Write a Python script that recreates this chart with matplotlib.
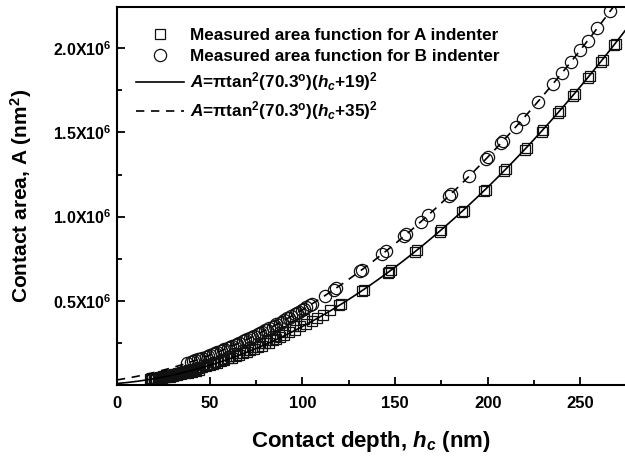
import numpy as np
import matplotlib
matplotlib.use('Agg')
import matplotlib.pyplot as plt
from matplotlib.ticker import MultipleLocator, FixedLocator

plt.rcParams['font.family'] = ['Liberation Sans', 'DejaVu Sans']
plt.rcParams['font.weight'] = 'bold'
plt.rcParams['axes.labelweight'] = 'bold'
plt.rcParams['mathtext.fontset'] = 'custom'
plt.rcParams['mathtext.rm'] = 'Liberation Sans:bold'
plt.rcParams['mathtext.it'] = 'Liberation Sans:bold:italic'
plt.rcParams['mathtext.bf'] = 'Liberation Sans:bold'

# 测得的面积函数 (A 压头), 单位 nm, 10^6 nm^2
h_A = [18, 19, 20, 21, 22, 23, 24, 25, 26, 27, 28, 29, 30, 31, 32, 33, 34, 35,
       36, 37, 38, 39, 40, 42, 44, 46, 48, 50, 52, 54, 56, 58, 60, 62, 64, 66,
       68, 70, 72, 74, 76, 78, 80, 82, 84, 86, 88, 90, 93, 96, 99, 102, 105,
       108, 111, 115, 120, 121, 132, 133, 146, 147, 148, 161, 162, 174, 175,
       186, 187, 198, 199, 209, 210, 220, 221, 229, 230, 238, 239, 246, 247,
       254, 255, 261, 262, 268, 269,
       19, 21, 23, 25, 27, 29, 31, 33, 35, 37, 39, 41, 43, 45, 47, 49, 53, 57,
       61, 65, 69, 73, 77, 81, 85, 89, 95, 101,
       18.5, 20.5, 22.5, 24.5, 26.5, 28.5, 30.5, 32.5, 34.5, 36.5, 38.5, 40.5,
       42.5, 44.5]
A_A = [0.034, 0.036, 0.037, 0.040, 0.041, 0.044, 0.045, 0.048, 0.050, 0.052,
       0.055, 0.057, 0.059, 0.062, 0.064, 0.067, 0.069, 0.072, 0.075, 0.078,
       0.081, 0.083, 0.087, 0.093, 0.099, 0.106, 0.113, 0.118, 0.127, 0.133,
       0.142, 0.147, 0.158, 0.163, 0.174, 0.179, 0.191, 0.196, 0.209, 0.214,
       0.228, 0.233, 0.247, 0.252, 0.267, 0.273, 0.288, 0.294, 0.314, 0.328,
       0.348, 0.362, 0.382, 0.398, 0.418, 0.443, 0.476, 0.481, 0.558, 0.566,
       0.665, 0.674, 0.682, 0.792, 0.800, 0.910, 0.918, 1.028, 1.036, 1.152,
       1.161, 1.272, 1.280, 1.398, 1.405, 1.505, 1.513, 1.617, 1.625, 1.719,
       1.728, 1.825, 1.833, 1.920, 1.928, 2.017, 2.025,
       0.040, 0.044, 0.049, 0.053, 0.058, 0.062, 0.067, 0.072, 0.078, 0.083,
       0.089, 0.095, 0.102, 0.109, 0.116, 0.123, 0.139, 0.155, 0.172, 0.190,
       0.208, 0.228, 0.249, 0.270, 0.293, 0.316, 0.351, 0.389,
       0.030, 0.034, 0.038, 0.042, 0.046, 0.050, 0.055, 0.059, 0.064, 0.069,
       0.074, 0.080, 0.086, 0.092]

# 测得的面积函数 (B 压头)
h_B = [38, 40, 42, 44, 46, 48, 50, 52, 54, 56, 58, 60, 62, 64, 66, 68, 70, 72,
       74, 76, 78, 80, 82, 84, 86, 88, 90, 92, 94, 96, 98, 100, 102, 104, 112,
       117, 118, 131, 132, 143, 145, 155, 156, 164, 168, 179, 180, 190, 199,
       200, 207, 208, 215, 219, 227, 235, 240, 245, 250, 254, 259, 266,
       41, 45, 49, 53, 57, 61, 65, 69, 73, 77, 81, 85, 89, 93, 97, 101, 105]
A_B = [0.131, 0.138, 0.146, 0.153, 0.161, 0.169, 0.178, 0.186, 0.195, 0.203,
       0.213, 0.221, 0.231, 0.240, 0.251, 0.260, 0.271, 0.281, 0.292, 0.302,
       0.314, 0.324, 0.336, 0.347, 0.360, 0.371, 0.384, 0.395, 0.409, 0.420,
       0.435, 0.446, 0.461, 0.473, 0.529, 0.566, 0.574, 0.675, 0.683, 0.776,
       0.794, 0.884, 0.894, 0.970, 1.010, 1.122, 1.132, 1.240, 1.341, 1.353,
       1.435, 1.447, 1.531, 1.581, 1.682, 1.786, 1.853, 1.921, 1.990, 2.046,
       2.118, 2.220,
       0.140, 0.155, 0.171, 0.188, 0.206, 0.224, 0.244, 0.265, 0.286, 0.306,
       0.328, 0.352, 0.375, 0.400, 0.425, 0.452, 0.480]

# 拟合参数
theta = 70.3
offset_A = 19
offset_B = 35
h_fit = np.linspace(0, 274, 300)
k = np.pi * np.tan(np.radians(theta)) ** 2
fit_A = k * (h_fit + offset_A) ** 2 / 1e6
fit_B = k * (h_fit + offset_B) ** 2 / 1e6

fig = plt.figure(figsize=(6.25, 4.58), dpi=100)
ax = fig.add_axes([0.187, 0.1594, 0.813, 0.8253])

ax.plot(h_A, A_A, linestyle='none', marker='s', markersize=7.4, mfc='none',
        mec='#111111', mew=0.9, label='Measured area function for A indenter')
ax.plot(h_B, A_B, linestyle='none', marker='o', markersize=8.8, mfc='none',
        mec='#111111', mew=0.9, label='Measured area function for B indenter')
ax.plot(h_fit, fit_A, color='black', lw=1.2,
        label=r'$\mathit{A}$=$\mathrm{\pi}$tan$^2$(70.3$^\mathrm{o}$)($\mathit{h}_\mathit{c}$+19)$^2$')
ax.plot(h_fit, fit_B, color='black', lw=1.2, linestyle=(0, (5, 4)),
        label=r'$\mathit{A}$=$\mathrm{\pi}$tan$^2$(70.3$^\mathrm{o}$)($\mathit{h}_\mathit{c}$+35)$^2$')

ax.set_xlim(0, 274)
ax.set_ylim(0, 2.245)
ax.xaxis.set_major_locator(MultipleLocator(50))
ax.xaxis.set_minor_locator(MultipleLocator(25))
ax.yaxis.set_major_locator(FixedLocator([0.5, 1.0, 1.5, 2.0]))
ax.yaxis.set_minor_locator(FixedLocator([0.25, 0.75, 1.25, 1.75]))
ax.set_yticklabels([r'0.5X10$^6$', r'1.0X10$^6$', r'1.5X10$^6$', r'2.0X10$^6$'])
ax.tick_params(which='both', direction='in', width=1.3)
ax.tick_params(axis='y', labelsize=11.5)
ax.tick_params(axis='x', labelsize=12, pad=8)
ax.tick_params(which='major', length=6)
ax.tick_params(which='minor', length=3.5)
for s in ['left', 'bottom', 'top']:
    ax.spines[s].set_linewidth(1.5)
ax.spines['right'].set_visible(False)

ax.set_xlabel(r'Contact depth, $\mathit{h}_\mathit{c}$ (nm)', fontsize=16, labelpad=13)
ax.set_ylabel(r'Contact area, A (nm$^2$)', fontsize=15, labelpad=14)

ax.legend(loc='upper left', bbox_to_anchor=(0.015, 0.975), frameon=False,
          fontsize=12.3, handlelength=2.8, handletextpad=0.35, labelspacing=0.35,
          borderaxespad=0.3)

fig.savefig('out.png', dpi=100)
